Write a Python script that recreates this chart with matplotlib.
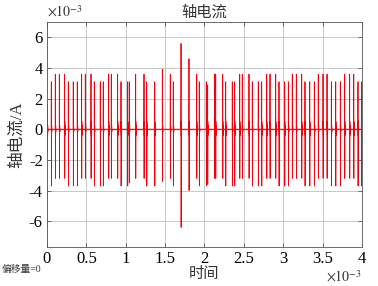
import matplotlib
matplotlib.use('Agg')
import matplotlib.pyplot as plt
from matplotlib.ticker import FuncFormatter
import numpy as np

plt.rcParams['font.family'] = ['Liberation Serif', 'Noto Sans CJK SC', 'DejaVu Sans']
plt.rcParams['mathtext.fontset'] = 'stix'
plt.rcParams['axes.unicode_minus'] = False

# spike events: time (x1e-3 s), positive peak and negative peak (x1e-3 A)
event_t = [0.005, 0.055, 0.106, 0.157, 0.224, 0.271, 0.334, 0.385, 0.440, 0.487,
           0.559, 0.601, 0.677, 0.715, 0.783, 0.817, 0.897, 0.940, 1.024, 1.045,
           1.126, 1.232, 1.266, 1.368, 1.465, 1.566, 1.604, 1.702, 1.803, 1.901,
           1.934, 2.023, 2.040, 2.129, 2.142, 2.231, 2.269, 2.353, 2.383, 2.447,
           2.480, 2.565, 2.607, 2.683, 2.726, 2.790, 2.832, 2.904, 2.946, 3.018,
           3.065, 3.115, 3.166, 3.234, 3.276, 3.336, 3.395, 3.445, 3.505, 3.556,
           3.611, 3.666, 3.725, 3.780, 3.843, 3.895, 3.949, 3.996]
event_pos = [1.6, 3.1, 3.6, 3.6, 3.6, 3.1, 3.1, 3.1, 3.6, 3.6,
             3.6, 3.1, 3.1, 3.1, 3.6, 3.6, 3.6, 3.1, 3.1, 3.1,
             3.6, 3.6, 3.1, 3.1, 3.9, 3.6, 3.1, 5.6, 4.6, 3.6,
             3.1, 3.1, 2.9, 3.6, 3.6, 3.6, 3.1, 3.1, 3.1, 3.6,
             3.6, 3.6, 3.1, 3.1, 3.1, 3.6, 3.6, 3.6, 3.1, 3.1,
             3.1, 3.6, 3.6, 3.6, 3.1, 3.1, 3.1, 3.6, 3.6, 3.6,
             3.1, 3.1, 3.1, 3.6, 3.6, 3.6, 3.1, 3.1]
event_neg = [-1.5, -3.7, -3.2, -3.2, -3.2, -3.7, -3.7, -3.7, -3.2, -3.2,
             -3.2, -3.7, -3.7, -3.7, -3.2, -3.2, -3.2, -3.7, -3.7, -3.5,
             -3.2, -3.2, -3.7, -3.7, -3.4, -3.2, -3.7, -6.4, -4.0, -3.2,
             -3.7, -3.7, -3.6, -3.2, -3.2, -3.2, -3.7, -3.7, -3.7, -3.2,
             -3.2, -3.2, -3.7, -3.7, -3.7, -3.2, -3.2, -3.2, -3.7, -3.7,
             -3.7, -3.2, -3.2, -3.2, -3.7, -3.7, -3.7, -3.2, -3.2, -3.2,
             -3.7, -3.7, -3.7, -3.2, -3.2, -3.2, -3.7, -3.7]
# small ringing after each spike (x1e-3 A)
ring = [0.5, -0.4, 0.25, -0.15]

x_ticks = [0, 0.5, 1, 1.5, 2, 2.5, 3, 3.5, 4]
y_ticks = [-6, -4, -2, 0, 2, 4, 6]

xs, ys = [0.0], [0.0]
dt = 0.0012
for t, p, n in zip(event_t, event_pos, event_neg):
    seq = [0.0, p, n] + ring + [0.0]
    for k, v in enumerate(seq):
        xs.append(t + (k - 1) * dt)
        ys.append(v)
xs.append(4.0)
ys.append(0.0)

fig = plt.figure(figsize=(3.78, 2.86), dpi=100)
ax = fig.add_axes([0.1243, 0.1353, 0.8334, 0.7877])
ax.plot(xs, ys, color=(0.95, 0, 0.05), lw=0.6)
ax.axhline(0, color=(0.95, 0, 0.05), lw=1.0, alpha=0.6)

ax.set_xlim(0, 4)
ax.set_ylim(-7.7, 7)
ax.set_xticks(x_ticks)
ax.set_yticks(y_ticks)
fmt = FuncFormatter(lambda v, pos: '%g' % v)
ax.xaxis.set_major_formatter(fmt)
ax.yaxis.set_major_formatter(fmt)
ax.tick_params(direction='in', top=True, right=True, labelsize=12, length=3, width=0.6,
               color='#555555', pad=3)
ax.grid(True, color='#c8c8c8', lw=0.7)
for s in ax.spines.values():
    s.set_color('#555555')
    s.set_linewidth(0.6)

ax.set_title('轴电流', fontsize=11, color='#333333', pad=4)
ax.set_xlabel('时间', fontsize=11, color='#333333', labelpad=0)
ax.set_ylabel('轴电流/A', fontsize=12, color='#333333', labelpad=3)
ax.text(0, 1.01, r'$\times10^{-3}$', transform=ax.transAxes, fontsize=10,
        color='#333333', ha='left', va='bottom')
ax.text(1.0, -0.095, r'$\times10^{-3}$', transform=ax.transAxes, fontsize=10,
        color='#333333', ha='right', va='top')
fig.text(0.005, 0.05, '偏移量=0', fontsize=7, color='#333333')

fig.savefig('out.png', dpi=100)
